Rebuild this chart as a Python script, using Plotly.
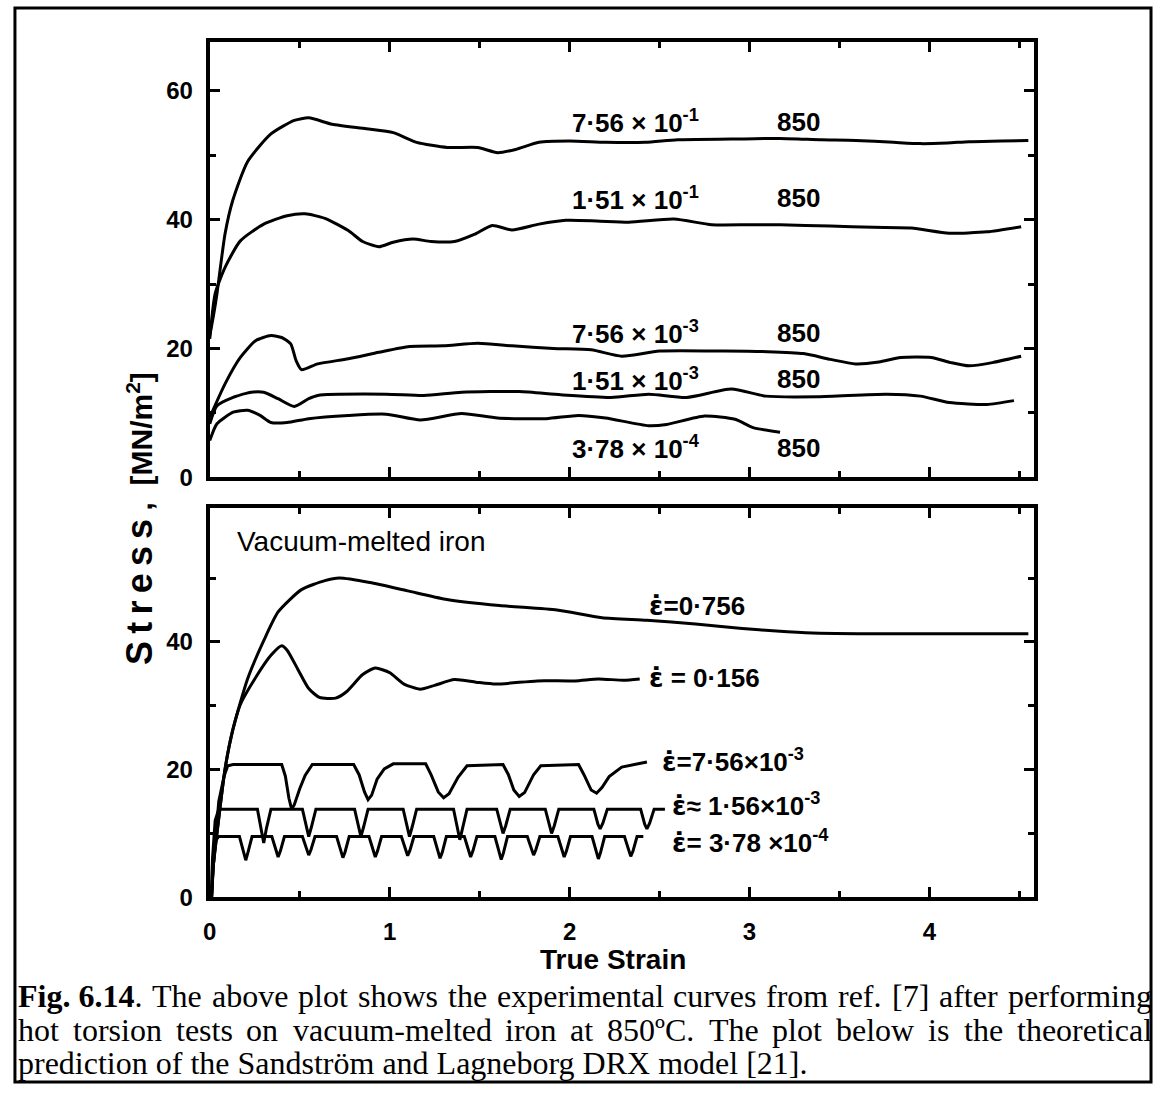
import plotly.graph_objects as go

W, H = 1153, 1097

# ---------------- data: top panel (experimental, 850 C) ----------------
exp_756e1_x = [0.0, 0.02, 0.04, 0.085, 0.128, 0.21, 0.34, 0.47, 0.55, 0.68, 0.87, 1.02, 1.15, 1.32,
               1.49, 1.60, 1.70, 1.83, 2.0, 2.2, 2.42, 2.6, 2.9, 3.17, 3.4, 3.59, 3.8, 3.95, 4.1,
               4.22, 4.4, 4.55]
exp_756e1_y = [22.0, 25.0, 28.5, 37.8, 43.0, 49.0, 53.3, 55.4, 55.8, 54.8, 54.1, 53.5, 52.0, 51.2,
               51.2, 50.4, 50.9, 52.0, 52.2, 52.0, 52.0, 52.4, 52.5, 52.6, 52.4, 52.3, 52.0, 51.8,
               51.9, 52.1, 52.2, 52.3]

exp_151e1_x = [0.0, 0.03, 0.085, 0.17, 0.30, 0.43, 0.53, 0.64, 0.77, 0.85, 0.94, 1.02, 1.13, 1.23,
               1.36, 1.47, 1.57, 1.68, 1.83, 1.98, 2.15, 2.33, 2.58, 2.79, 3.0, 3.17, 3.45, 3.69,
               3.9, 4.11, 4.32, 4.51]
exp_151e1_y = [21.5, 28.5, 32.6, 36.7, 39.3, 40.6, 40.9, 40.2, 38.3, 36.6, 35.8, 36.5, 37.0, 36.6,
               36.6, 37.7, 39.1, 38.4, 39.3, 39.9, 39.8, 39.6, 40.1, 39.2, 39.2, 39.2, 39.0, 38.8,
               38.7, 37.9, 38.1, 38.9]

exp_756e3_x = [0.0, 0.085, 0.17, 0.255, 0.34, 0.40, 0.45, 0.48, 0.51, 0.60, 0.77, 0.94, 1.11, 1.30,
               1.49, 1.68, 1.91, 2.12, 2.29, 2.5, 2.86, 3.1, 3.30, 3.45, 3.59, 3.72, 3.84, 4.01,
               4.12, 4.22, 4.35, 4.51]
exp_756e3_y = [9.3, 14.5, 18.6, 21.2, 22.0, 21.7, 20.7, 18.1, 16.7, 17.6, 18.4, 19.4, 20.3, 20.4,
               20.8, 20.4, 20.0, 19.8, 18.8, 19.6, 19.6, 19.5, 19.2, 18.3, 17.6, 17.9, 18.6, 18.6,
               17.8, 17.3, 17.8, 18.8]

exp_151e3_x = [0.0, 0.04, 0.13, 0.23, 0.30, 0.38, 0.47, 0.55, 0.60, 0.98, 1.19, 1.40, 1.72, 1.95,
               2.23, 2.44, 2.65, 2.90, 3.09, 3.38, 3.76, 3.95, 4.11, 4.32, 4.47]
exp_151e3_y = [8.3, 11.1, 12.4, 13.2, 13.2, 12.2, 11.0, 12.2, 12.7, 12.9, 12.7, 13.2, 13.3, 12.8,
               12.4, 12.9, 12.4, 13.7, 12.6, 12.5, 12.9, 12.6, 11.6, 11.3, 11.9]

exp_378e4_x = [0.0, 0.04, 0.13, 0.21, 0.28, 0.34, 0.43, 0.55, 0.77, 0.98, 1.17, 1.40, 1.60, 1.87,
               2.05, 2.2, 2.44, 2.54, 2.75, 2.92, 3.02, 3.17]
exp_378e4_y = [5.7, 8.3, 10.1, 10.4, 9.6, 8.5, 8.5, 9.1, 9.6, 9.8, 8.9, 9.9, 9.2, 9.1,
               9.6, 9.2, 8.0, 8.2, 9.5, 9.0, 7.7, 7.0]

# ---------------- data: bottom panel (model prediction) ----------------
mod_0756_x = [0.01, 0.02, 0.04, 0.085, 0.127, 0.21, 0.30, 0.38, 0.51, 0.64, 0.72, 0.89, 1.10, 1.31,
              1.61, 1.93, 2.18, 2.43, 2.7, 2.96, 3.15, 3.35, 3.6, 4.0, 4.3, 4.55]
mod_0756_y = [0.0, 5.0, 10.0, 20.1, 26.1, 34.2, 40.2, 44.7, 48.2, 49.6, 50.0, 49.3, 48.0, 46.7,
              45.7, 45.0, 43.8, 43.4, 42.8, 42.1, 41.7, 41.4, 41.3, 41.3, 41.3, 41.3]

mod_0156_x = [0.01, 0.02, 0.04, 0.085, 0.127, 0.17, 0.25, 0.34, 0.40, 0.43, 0.49, 0.55, 0.61, 0.70,
              0.76, 0.85, 0.92, 1.0, 1.08, 1.17, 1.25, 1.36, 1.48, 1.59, 1.82, 2.03, 2.16, 2.3, 2.39]
mod_0156_y = [0.0, 5.0, 10.0, 20.1, 26.1, 30.2, 34.2, 37.9, 39.4, 38.7, 35.7, 32.7, 31.3, 31.2,
              32.2, 34.9, 35.9, 35.2, 33.4, 32.6, 33.2, 34.1, 33.7, 33.4, 33.9, 33.9, 34.2, 34.0, 34.2]

mod_756e3_x = [0.01, 0.02, 0.05, 0.08, 0.10, 0.13, 0.40, 0.42, 0.44, 0.455, 0.47, 0.50, 0.53, 0.57,
               0.80, 0.83, 0.86, 0.88, 0.90, 0.93, 0.97, 1.02, 1.20, 1.23, 1.27, 1.30, 1.33, 1.38,
               1.43, 1.63, 1.66, 1.69, 1.72, 1.75, 1.80, 1.84, 2.05, 2.08, 2.12, 2.15, 2.18, 2.22,
               2.29, 2.43]
mod_756e3_y = [0.0, 5.0, 15.0, 19.0, 20.6, 20.8, 20.8, 19.0, 15.5, 13.8, 14.5, 17.0, 19.1, 20.8,
               20.8, 19.2, 16.5, 15.3, 16.0, 18.5, 20.1, 20.9, 20.9, 19.2, 16.5, 15.6, 16.2, 18.8,
               20.6, 20.8, 19.2, 16.8, 15.8, 16.4, 19.2, 20.6, 20.8, 19.2, 16.8, 16.3, 17.2, 18.9,
               20.4, 21.2]

mod_156e3_x = [0.01, 0.015, 0.03, 0.05,
               0.265, 0.288, 0.30, 0.315, 0.34,
               0.515, 0.538, 0.55, 0.565, 0.59,
               0.805, 0.828, 0.84, 0.855, 0.88,
               1.075, 1.098, 1.11, 1.125, 1.15,
               1.355, 1.378, 1.39, 1.405, 1.43,
               1.595, 1.618, 1.63, 1.645, 1.67,
               1.865, 1.888, 1.90, 1.915, 1.94,
               2.135, 2.158, 2.17, 2.185, 2.21,
               2.395, 2.418, 2.43, 2.445, 2.47, 2.53]
mod_156e3_y = [0.0, 6.0, 12.0, 13.8,
               13.8, 10.6, 8.5, 10.8, 13.8,
               13.8, 10.8, 9.5, 11.0, 13.8,
               13.8, 10.8, 9.5, 11.0, 13.8,
               13.8, 10.8, 9.5, 11.0, 13.8,
               13.8, 10.6, 9.0, 10.8, 13.8,
               13.8, 11.0, 10.0, 11.2, 13.8,
               13.8, 11.0, 10.0, 11.2, 13.8,
               13.8, 11.4, 10.7, 11.6, 13.8,
               13.8, 11.4, 10.7, 11.6, 13.8, 13.8]

mod_378e4_x = [0.01, 0.015, 0.03, 0.05,
               0.165, 0.188, 0.20, 0.212, 0.235,
               0.345, 0.368, 0.38, 0.392, 0.415,
               0.515, 0.538, 0.55, 0.562, 0.585,
               0.705, 0.728, 0.74, 0.752, 0.775,
               0.885, 0.908, 0.92, 0.932, 0.955,
               1.065, 1.088, 1.10, 1.112, 1.135,
               1.245, 1.268, 1.28, 1.292, 1.315,
               1.415, 1.438, 1.45, 1.462, 1.485,
               1.585, 1.608, 1.62, 1.632, 1.655,
               1.765, 1.788, 1.80, 1.812, 1.835,
               1.935, 1.958, 1.97, 1.982, 2.005,
               2.125, 2.148, 2.16, 2.172, 2.195,
               2.305, 2.328, 2.34, 2.352, 2.375, 2.41]
mod_378e4_y = [0.0, 5.0, 8.8, 9.5,
               9.5, 7.0, 5.8, 7.0, 9.5,
               9.5, 7.2, 6.3, 7.2, 9.5,
               9.5, 7.4, 6.6, 7.4, 9.5,
               9.5, 7.1, 6.2, 7.1, 9.5,
               9.5, 7.2, 6.3, 7.2, 9.5,
               9.5, 7.3, 6.5, 7.3, 9.5,
               9.5, 7.0, 6.1, 7.0, 9.5,
               9.5, 7.2, 6.3, 7.2, 9.5,
               9.5, 6.9, 5.9, 6.9, 9.5,
               9.5, 7.4, 6.6, 7.4, 9.5,
               9.5, 7.2, 6.3, 7.2, 9.5,
               9.5, 7.0, 6.0, 7.0, 9.5,
               9.5, 7.2, 6.4, 7.2, 9.5, 9.5]

# labels
EDOT = '<span style="font-family:DejaVu Sans">ε̇</span>'
top_rate_labels = ["7·56 × 10<sup>-1</sup>", "1·51 × 10<sup>-1</sup>", "7·56 × 10<sup>-3</sup>",
                   "1·51 × 10<sup>-3</sup>", "3·78 × 10<sup>-4</sup>"]
top_temp_labels = ["850", "850", "850", "850", "850"]
bottom_rate_labels = [EDOT + "=0·756", EDOT + " = 0·156", EDOT + "=7·56×10<sup>-3</sup>",
                      EDOT + "≈ 1·56×10<sup>-3</sup>", EDOT + "= 3·78 ×10<sup>-4</sup>"]
x_ticks = [0, 1, 2, 3, 4]
y_ticks_top = [0, 20, 40, 60]
y_ticks_bottom = [0, 20, 40]
caption_lines = [
    "<b>Fig. 6.14</b>. The above plot shows the experimental curves from ref. [7] after performing",
    "hot torsion tests on vacuum-melted iron at 850ºC. The plot below is the theoretical",
    "prediction of the Sandström and Lagneborg DRX model [21].",
]

# ---------------- layout geometry (pixels) ----------------
PX_L, PX_R = 204, 1033
TOP_T, TOP_B = 43, 483
BOT_T, BOT_B = 514, 908


def fx(px):
    return px / W


def fy(py):
    return 1 - py / H


fig = go.Figure()


def add_curve(x, y, xa, ya, smooth=True):
    line = dict(color="black", width=3)
    if smooth:
        line.update(shape="spline", smoothing=0.6)
    fig.add_trace(go.Scatter(x=x, y=y, mode="lines", line=line, xaxis=xa, yaxis=ya,
                             hoverinfo="skip", showlegend=False))


add_curve(exp_756e1_x, exp_756e1_y, "x2", "y2")
add_curve(exp_151e1_x, exp_151e1_y, "x2", "y2")
add_curve(exp_756e3_x, exp_756e3_y, "x2", "y2")
add_curve(exp_151e3_x, exp_151e3_y, "x2", "y2")
add_curve(exp_378e4_x, exp_378e4_y, "x2", "y2")

add_curve(mod_0756_x, mod_0756_y, "x", "y")
add_curve(mod_0156_x, mod_0156_y, "x", "y")
add_curve(mod_756e3_x, mod_756e3_y, "x", "y", smooth=False)
add_curve(mod_156e3_x, mod_156e3_y, "x", "y", smooth=False)
add_curve(mod_378e4_x, mod_378e4_y, "x", "y", smooth=False)

SANS = "Liberation Sans Narrow, Liberation Sans, Arial, sans-serif"
TICKFONT = dict(family=SANS, size=24, color="black", weight="bold")
LABFONT = dict(family="Liberation Sans, Arial, sans-serif", size=26, color="black", weight="bold")

common_x = dict(range=[0, 4.58], showgrid=False, zeroline=False, showline=True, linewidth=4,
                linecolor="black", mirror="allticks", ticks="inside", ticklen=10, tickwidth=3,
                tickcolor="black", tickvals=x_ticks, tickfont=TICKFONT,
                minor=dict(tickvals=[0.5, 1.5, 2.5, 3.5, 4.5], ticks="inside", ticklen=6,
                           tickwidth=3, tickcolor="black"))
common_y = dict(showgrid=False, zeroline=False, showline=True, linewidth=4, linecolor="black",
                mirror="allticks", ticks="inside", ticklen=10, tickwidth=3, tickcolor="black",
                tickfont=TICKFONT, ticklabelstandoff=8,
                minor=dict(tickvals=[10, 30, 50], ticks="inside", ticklen=6, tickwidth=3,
                           tickcolor="black"))

fig.update_layout(
    width=W, height=H, margin=dict(l=0, r=0, t=0, b=0),
    paper_bgcolor="white", plot_bgcolor="white", showlegend=False,
    xaxis=dict(common_x, domain=[fx(PX_L), fx(PX_R)], anchor="y", ticklabelstandoff=10),
    yaxis=dict(common_y, domain=[fy(BOT_B), fy(BOT_T)], anchor="x", range=[0, 61],
               tickvals=y_ticks_bottom),
    xaxis2=dict(common_x, domain=[fx(PX_L), fx(PX_R)], anchor="y2", showticklabels=False),
    yaxis2=dict(common_y, domain=[fy(TOP_B), fy(TOP_T)], anchor="x2", range=[0, 67.5],
                tickvals=y_ticks_top),
)

ann = []
# top panel labels
top_y = [55.2, 43.3, 22.4, 15.2, 4.6]
for lab, t, yv in zip(top_rate_labels, top_temp_labels, top_y):
    ann.append(dict(x=2.0, y=yv, xref="x2", yref="y2", text=lab, showarrow=False,
                    xanchor="left", yanchor="middle", font=LABFONT))
    ann.append(dict(x=3.27, y=yv, xref="x2", yref="y2", text=t, showarrow=False,
                    xanchor="center", yanchor="middle", font=LABFONT))

# bottom panel labels
bot_pos = [(2.43, 45.7), (2.43, 34.4), (2.50, 21.4), (2.56, 14.5), (2.56, 8.7)]
for lab, (xv, yv) in zip(bottom_rate_labels, bot_pos):
    ann.append(dict(x=xv, y=yv, xref="x", yref="y", text=lab, showarrow=False,
                    xanchor="left", yanchor="middle", font=LABFONT))
ann.append(dict(x=0.14, y=55.7, xref="x", yref="y", text="Vacuum-melted iron", showarrow=False,
                xanchor="left", yanchor="middle",
                font=dict(family="Liberation Sans, Arial, sans-serif", size=28, color="black")))

# axis titles
ann.append(dict(x=fx(610), y=fy(971), xref="paper", yref="paper", text="True Strain",
                showarrow=False, xanchor="center", yanchor="middle",
                font=dict(family="Liberation Sans, Arial, sans-serif", size=28, color="black",
                          weight="bold")))
ann.append(dict(x=fx(134), y=fy(525), xref="paper", yref="paper",
                text='<span style="font-size:36px">S\u2009t\u2009r\u2009e\u2009s\u2009s</span> ,  [MN/m<sup>2</sup>]',
                textangle=-90, showarrow=False, xanchor="center", yanchor="middle",
                font=dict(family="Liberation Sans, Arial, sans-serif", size=30, color="black",
                          weight="bold")))

# caption: justified lines using Times metrics
TIMES = {' ': 250, '.': 250, ',': 250, '[': 333, ']': 333, '-': 333, 'º': 310, 'ö': 500,
         'T': 611, 'F': 556, 'C': 667, 'S': 556, 'L': 611, 'D': 722, 'R': 667, 'X': 722,
         'a': 444, 'b': 500, 'c': 444, 'd': 500, 'e': 444, 'f': 333, 'g': 500, 'h': 500,
         'i': 278, 'j': 278, 'k': 500, 'l': 278, 'm': 778, 'n': 500, 'o': 500, 'p': 500,
         'q': 500, 'r': 333, 's': 389, 't': 278, 'u': 500, 'v': 500, 'w': 722, 'x': 500,
         'y': 500, 'z': 444}
TIMES_BOLD = {'F': 611, 'i': 278, 'g': 500, '.': 250, ' ': 250}
CAP_SIZE = 32
CAP_L, CAP_R = 10, 1150
cap_centers = [1008, 1042, 1076]
CAPFONT = dict(family="Liberation Serif, Times New Roman, serif", size=CAP_SIZE, color="black")


def width_of(tok):
    w = 0
    bold = False
    i = 0
    while i < len(tok):
        if tok.startswith("<b>", i):
            bold = True
            i += 3
            continue
        if tok.startswith("</b>", i):
            bold = False
            i += 4
            continue
        ch = tok[i]
        if ch.isdigit():
            w += 500
        elif bold:
            w += TIMES_BOLD.get(ch, 500)
        else:
            w += TIMES.get(ch, 500)
        i += 1
    return w * CAP_SIZE / 1000.0


for li, line in enumerate(caption_lines):
    yc = fy(cap_centers[li])
    if li < 2:
        if li == 0:
            words = ["<b>Fig. 6.14</b>."] + line.split("</b>. ")[1].split(" ")
        else:
            words = line.split(" ")
        widths = [width_of(w) for w in words]
        gap = (CAP_R - CAP_L - sum(widths)) / (len(words) - 1)
        xcur = CAP_L
        for w, wd in zip(words, widths):
            ann.append(dict(x=fx(xcur), y=yc, xref="paper", yref="paper", text=w,
                            showarrow=False, xanchor="left", yanchor="middle", font=CAPFONT,
                            borderpad=0))
            xcur += wd + gap
    else:
        ann.append(dict(x=fx(CAP_L), y=yc, xref="paper", yref="paper", text=line,
                        showarrow=False, xanchor="left", yanchor="middle", font=CAPFONT,
                        borderpad=0))

fig.update_layout(annotations=ann)

# outer frame
fig.add_shape(type="rect", xref="paper", yref="paper", x0=fx(8), x1=fx(1151), y0=fy(1095),
              y1=fy(8), line=dict(color="black", width=3), fillcolor="rgba(0,0,0,0)")

fig.write_html("out.html")
